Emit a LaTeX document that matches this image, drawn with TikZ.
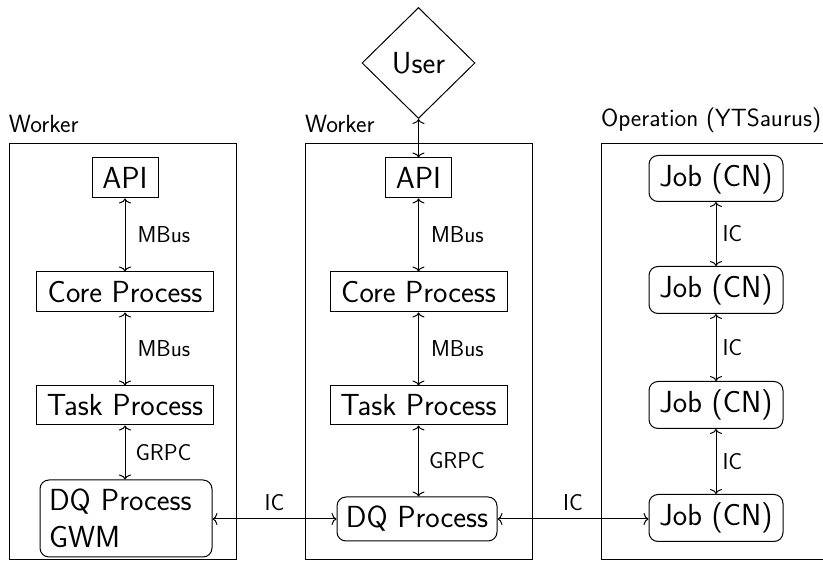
\documentclass[tikz,border=0pt]{standalone}
\usepackage{fontspec}
\usetikzlibrary{shapes.geometric, arrows.meta}
\begin{document}
\begin{tikzpicture}[x=1pt, y=-1pt, line width=1pt,
  every node/.style={font=\sffamily\fontsize{30.5}{37}\selectfont},
  box/.style={draw, rectangle, minimum height=40pt, inner xsep=4pt, inner ysep=0pt},
  rbox/.style={draw, rectangle, rounded corners=9pt, minimum height=46pt, inner xsep=4pt, inner ysep=0pt},
  frame/.style={draw, rectangle, inner sep=0pt, minimum width=227pt, minimum height=416pt},
  title/.style={font=\sffamily\fontsize{24.9}{30}\selectfont, anchor=south west, inner sep=0pt},
  lbl/.style={font=\sffamily\fontsize{23}{27}\selectfont, inner sep=0pt},
  link/.style={{To[length=5pt, width=12pt]}-{To[length=5pt, width=12pt]}}]

\clip (0,0) rectangle (823,561);

% containers
\node[frame] (w1) at (122.5,351.5) {};
\node[frame] (w2) at (418.5,351.5) {};
\node[frame] (op) at (714.5,351.5) {};
\node[title] (t1) at ([yshift=10pt]w1.north west) {Worker};
\node[title] (t2) at ([yshift=10pt]w2.north west) {Worker};
\node[title] (t3) at ([yshift=10pt]op.north west) {Operation (YTSaurus)};

% user
\node[draw, diamond, aspect=1, inner sep=0pt, minimum width=113pt, minimum height=111pt] (user) at (418.5,63) {User};

% first worker
\node[box, minimum width=66pt]  (aApi)  at (125,178) {API};
\node[box, minimum width=177pt] (aCore) at (125,292) {Core Process};
\node[box, minimum width=177pt, minimum height=39pt] (aTask) at (125,405.5) {Task Process};
\node[rbox, text width=154pt, align=left, inner xsep=9pt, minimum height=77pt] (aDq) at (126,518.5) {DQ Process\\GWM};

% second worker
\node[box, minimum width=66pt]  (bApi)  at (418.5,178) {API};
\node[box, minimum width=177pt] (bCore) at (418.5,292) {Core Process};
\node[box, minimum width=177pt, minimum height=39pt] (bTask) at (418.5,405.5) {Task Process};
\node[rbox, minimum width=160pt, minimum height=44pt] (bDq) at (417,519) {DQ Process};

% operation jobs
\node[rbox, minimum width=134pt, minimum height=46pt] (j1) at (716,178.5) {Job (CN)};
\node[rbox, minimum width=134pt, minimum height=47pt] (j2) at (716,290) {Job (CN)};
\node[rbox, minimum width=134pt, minimum height=47pt] (j3) at (716,405) {Job (CN)};
\node[rbox, minimum width=134pt, minimum height=47pt] (j4) at (716,518) {Job (CN)};

% connections
\draw[link] (user.south) -- (bApi.north);

\draw[link] (aApi) -- node[lbl, anchor=west, xshift=12pt] {MBus} (aCore);
\draw[link] (aCore) -- node[lbl, anchor=west, xshift=12pt] {MBus} (aTask);
\draw[link] (aTask.south) -- node[lbl, anchor=west, xshift=10pt] {GRPC} (aTask.south |- aDq.north);

\draw[link] (bApi) -- node[lbl, anchor=west, xshift=12pt] {MBus} (bCore);
\draw[link] (bCore) -- node[lbl, anchor=west, xshift=12pt] {MBus} (bTask);
\draw[link] (bTask.south) -- node[lbl, anchor=west, xshift=10pt] {GRPC} (bTask.south |- bDq.north);

\draw[link] (j1.south) -- node[lbl, anchor=west, xshift=6pt] {IC} (j2.north);
\draw[link] (j2.south) -- node[lbl, anchor=west, xshift=6pt] {IC} (j3.north);
\draw[link] (j3.south) -- node[lbl, anchor=west, xshift=6pt] {IC} (j4.north);

\draw[link] (aDq.east |- bDq.west) -- node[lbl, anchor=south, yshift=8pt] {IC} (bDq.west);
\draw[link] (bDq.east) -- node[lbl, anchor=south, yshift=8pt] {IC} (j4.west |- bDq.east);
\end{tikzpicture}
\end{document}
